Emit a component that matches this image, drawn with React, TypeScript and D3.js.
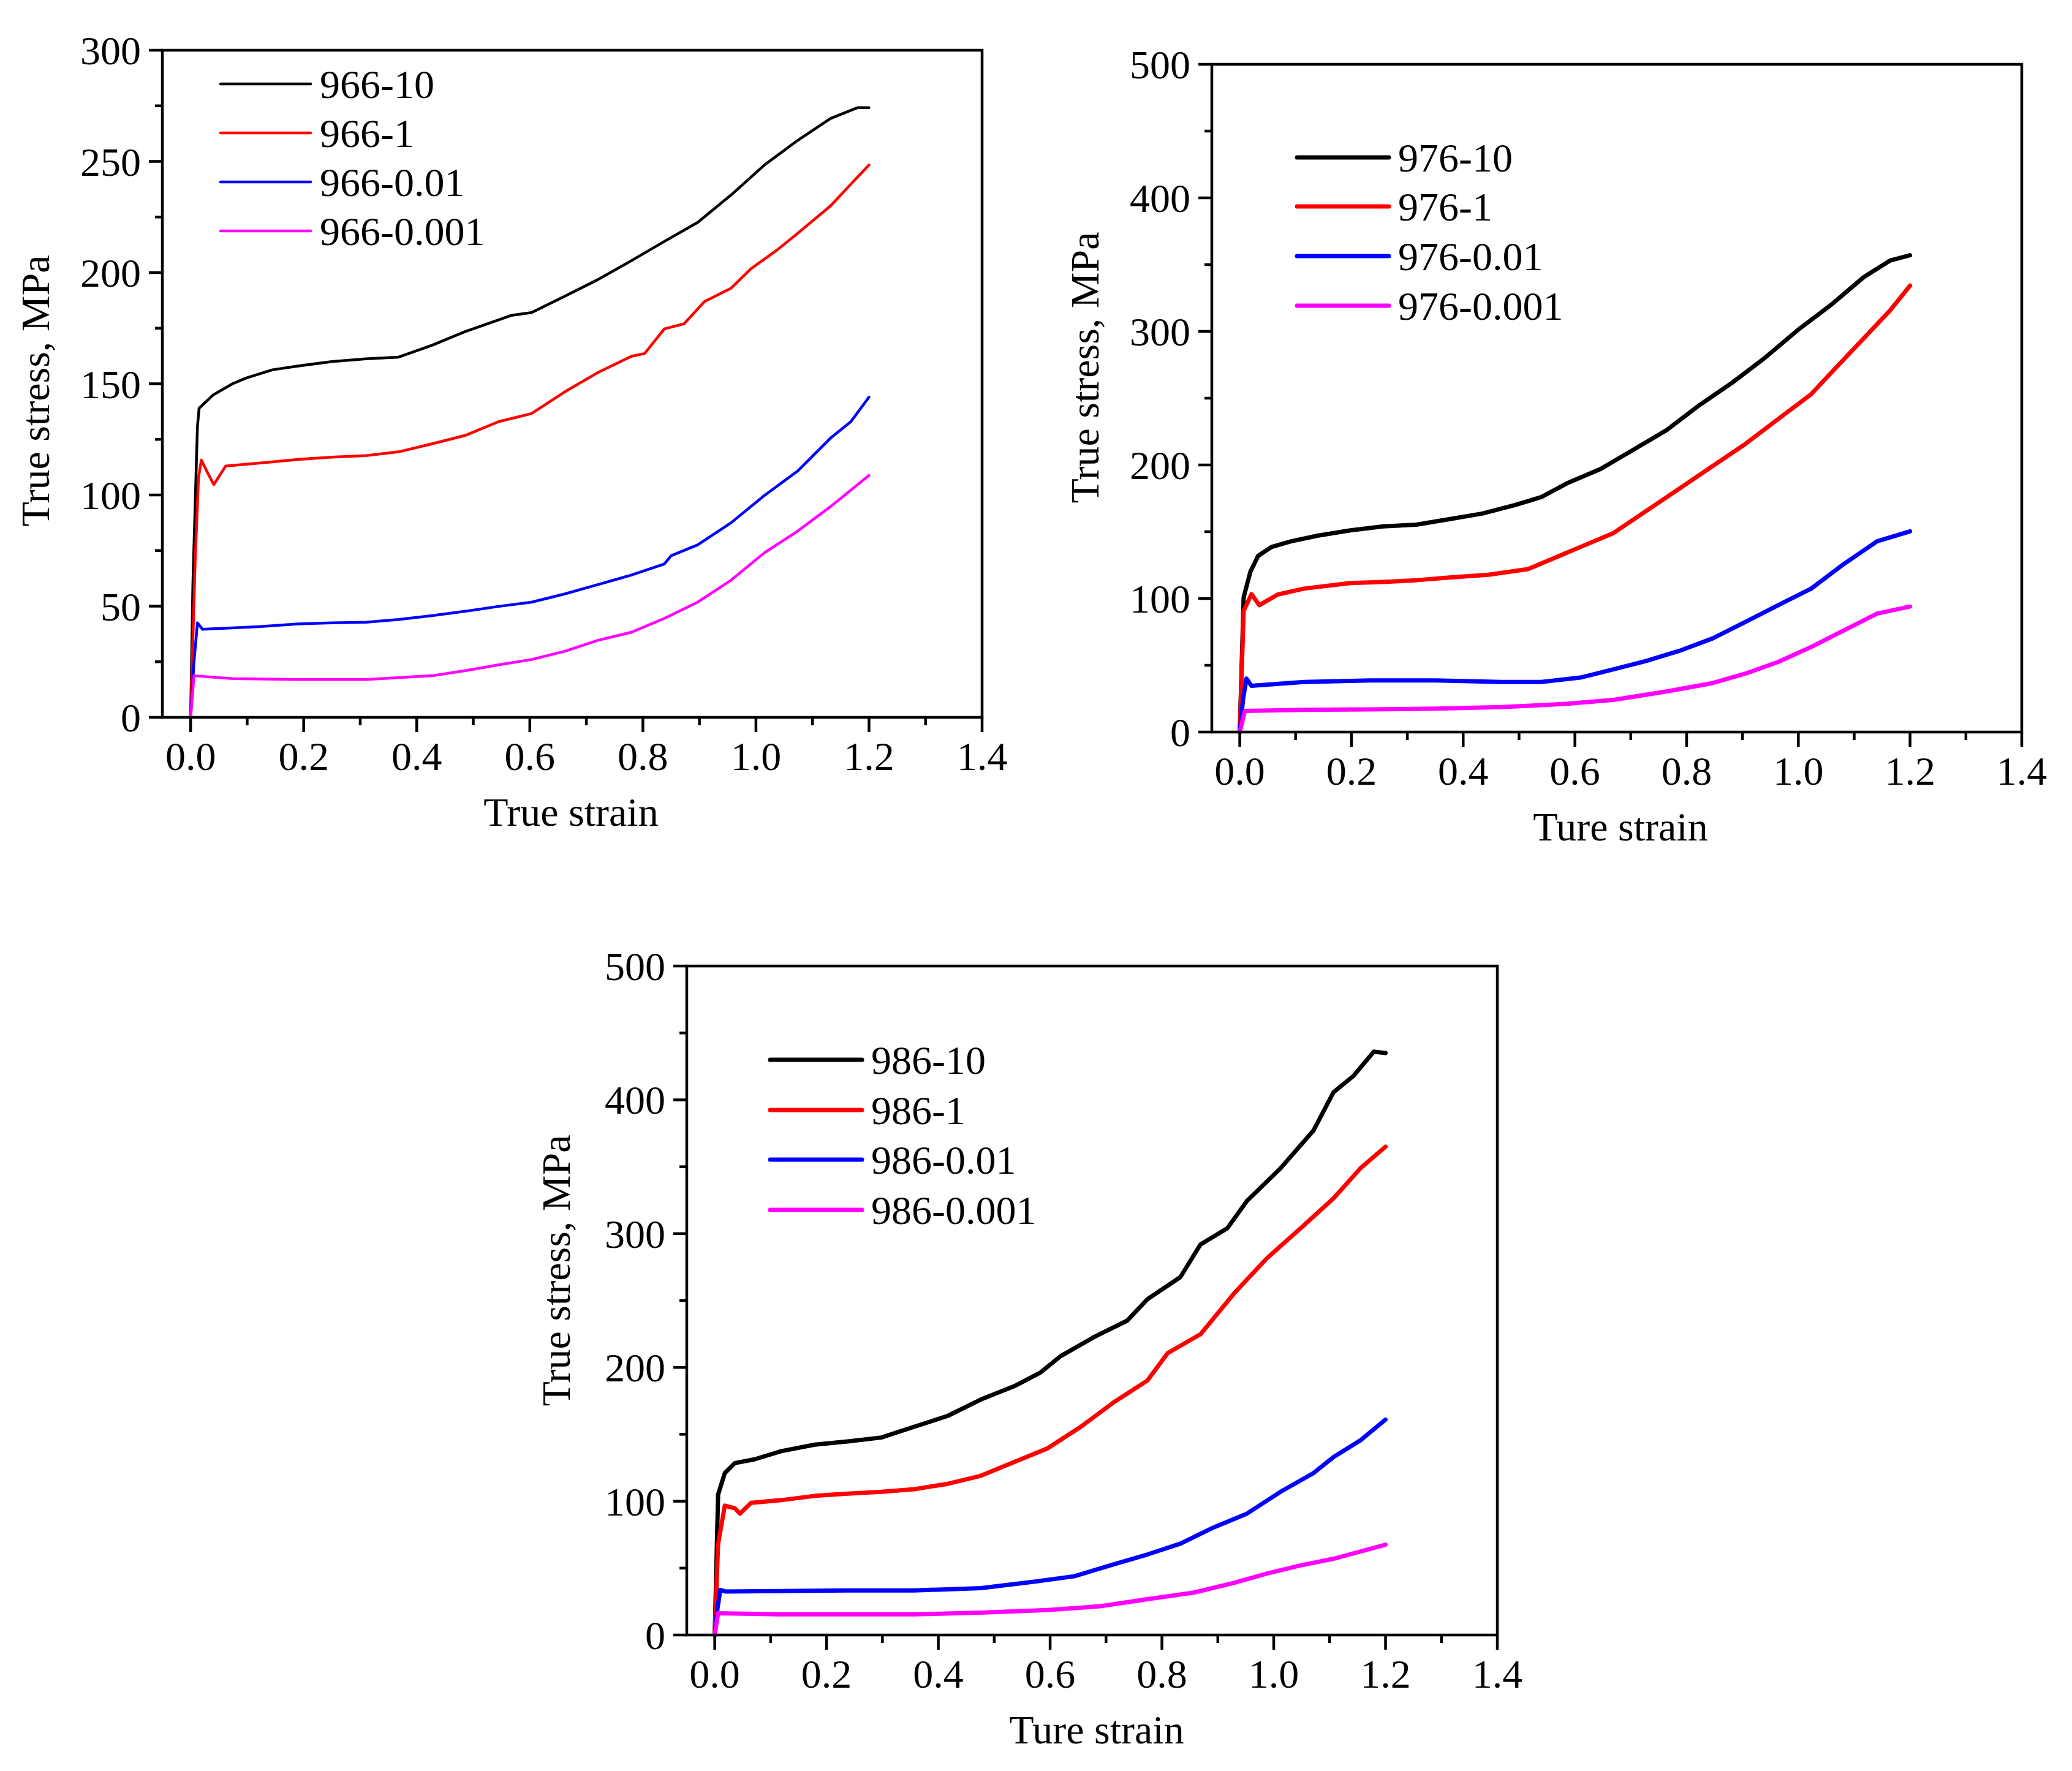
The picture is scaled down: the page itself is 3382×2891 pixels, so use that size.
import React from "react";
import * as d3 from "d3";

// ---------- Data ----------
const colors = ["#000000", "#ff0000", "#0000ff", "#ff00ff"];

// Panel 1 (966)
const labels966 = ["966-10", "966-1", "966-0.01", "966-0.001"];
const s966_10: [number, number][] = [
  [0, 0], [0.004, 60], [0.012, 130.5], [0.015, 139], [0.04, 145], [0.074, 150], [0.098, 152.6],
  [0.145, 156.3], [0.19, 158], [0.25, 160], [0.31, 161.2], [0.368, 162], [0.427, 167.3],
  [0.486, 173.5], [0.568, 180.8], [0.603, 182], [0.662, 189.4], [0.72, 196.8], [0.78, 205.4],
  [0.838, 214], [0.897, 222.6], [0.956, 234.9], [1.015, 248.4], [1.074, 259.5], [1.132, 269.3],
  [1.18, 274.2], [1.2, 274.2],
];
const s966_1: [number, number][] = [
  [0, 0], [0.008, 70], [0.014, 108], [0.019, 115.7], [0.03, 110], [0.041, 104.7], [0.062, 113],
  [0.13, 114.5], [0.19, 116], [0.25, 117], [0.31, 117.7], [0.368, 119.4], [0.427, 123],
  [0.486, 126.8], [0.545, 133], [0.603, 136.6], [0.662, 146.4], [0.72, 155], [0.78, 162.4],
  [0.803, 163.6], [0.838, 174.7], [0.873, 177], [0.909, 187], [0.956, 193], [0.991, 201.7],
  [1.038, 210.3], [1.074, 217.7], [1.132, 230], [1.168, 239.8], [1.2, 248.4],
];
const s966_001: [number, number][] = [
  [0, 0], [0.006, 25], [0.012, 42.5], [0.021, 39.6], [0.12, 40.8], [0.19, 42], [0.25, 42.5],
  [0.31, 42.8], [0.368, 44], [0.427, 45.7], [0.486, 47.7], [0.545, 49.9], [0.603, 51.8],
  [0.662, 55.5], [0.72, 59.7], [0.78, 64], [0.838, 69], [0.85, 72.7], [0.897, 77.6],
  [0.956, 87.5], [1.015, 99.8], [1.074, 110.8], [1.132, 125.6], [1.168, 133], [1.2, 144],
];
const s966_0001: [number, number][] = [
  [0, 0], [0.006, 18.7], [0.074, 17.4], [0.19, 17], [0.31, 17], [0.427, 18.7], [0.486, 21],
  [0.545, 23.6], [0.603, 26], [0.662, 29.7], [0.72, 34.6], [0.78, 38.3], [0.838, 44.5],
  [0.897, 51.8], [0.956, 61.7], [1.015, 74], [1.074, 83.8], [1.132, 94.8], [1.2, 108.8],
];

// Panel 2 (976)
const labels976 = ["976-10", "976-1", "976-0.01", "976-0.001"];
const s976_10: [number, number][] = [
  [0, 0], [0.007, 101], [0.019, 120], [0.033, 132], [0.057, 138.6], [0.092, 142.8], [0.139, 147],
  [0.198, 151], [0.257, 154], [0.316, 155.3], [0.375, 159.4], [0.434, 163.6], [0.493, 170],
  [0.54, 176], [0.587, 186.5], [0.646, 197], [0.705, 211.5], [0.764, 226], [0.823, 244.8],
  [0.881, 261.4], [0.94, 280.2], [0.999, 301], [1.058, 319.7], [1.117, 340.6], [1.164, 353],
  [1.2, 357],
];
const s976_1: [number, number][] = [
  [0, 0], [0.007, 90.8], [0.021, 103.3], [0.035, 95], [0.068, 103], [0.115, 107.4], [0.198, 111.6],
  [0.257, 112.4], [0.316, 113.7], [0.375, 115.7], [0.445, 117.8], [0.516, 122], [0.563, 130.3],
  [0.61, 138.6], [0.669, 149], [0.728, 165.7], [0.787, 182.3], [0.846, 199], [0.905, 215.7],
  [0.964, 234.4], [1.023, 253], [1.07, 274], [1.117, 294.8], [1.164, 315.6], [1.2, 334.3],
];
const s976_001: [number, number][] = [
  [0, 0], [0.006, 25], [0.012, 40], [0.021, 34.6], [0.115, 37.5], [0.233, 38.7], [0.351, 38.7],
  [0.469, 37.5], [0.54, 37.5], [0.61, 40.8], [0.669, 47], [0.728, 53.3], [0.787, 60.8],
  [0.846, 70], [0.905, 82.4], [0.964, 95], [1.023, 107.4], [1.082, 126], [1.141, 142.8],
  [1.2, 150.3],
];
const s976_0001: [number, number][] = [
  [0, 0], [0.009, 15.8], [0.115, 16.6], [0.233, 17], [0.351, 17.5], [0.469, 18.7], [0.587, 21.2],
  [0.669, 24.1], [0.764, 30.4], [0.846, 36.6], [0.905, 43.7], [0.964, 52.5], [1.023, 63.7],
  [1.082, 76.2], [1.141, 88.7], [1.2, 94],
];

// Panel 3 (986)
const labels986 = ["986-10", "986-1", "986-0.01", "986-0.001"];
const s986_10: [number, number][] = [
  [0, 0], [0.006, 104.9], [0.018, 121], [0.036, 128.5], [0.071, 131.3], [0.119, 137.4],
  [0.179, 142.3], [0.238, 144.7], [0.298, 147.6], [0.357, 155.7], [0.417, 163.8], [0.476, 176],
  [0.536, 186], [0.583, 196.3], [0.619, 208.5], [0.679, 222.8], [0.738, 235], [0.774, 251],
  [0.833, 267.5], [0.869, 291.9], [0.917, 304], [0.952, 324.4], [1.012, 348.8], [1.071, 377],
  [1.107, 405.7], [1.143, 418], [1.179, 436], [1.2, 435],
];
const s986_1: [number, number][] = [
  [0, 0], [0.006, 68], [0.018, 96.7], [0.036, 94.7], [0.045, 90.7], [0.065, 98.8], [0.119, 100.8],
  [0.179, 104], [0.238, 105.7], [0.298, 107], [0.357, 109], [0.417, 113], [0.476, 119],
  [0.536, 129.3], [0.595, 139.4], [0.655, 155.7], [0.714, 174], [0.774, 190.2], [0.81, 210.6],
  [0.869, 224.8], [0.929, 255.3], [0.988, 281.7], [1.048, 304], [1.107, 326.4], [1.155, 348.8],
  [1.2, 365],
];
const s986_001: [number, number][] = [
  [0, 0], [0.005, 20], [0.01, 33.7], [0.02, 32.5], [0.119, 32.9], [0.238, 33.3], [0.357, 33.3],
  [0.476, 35], [0.571, 39.8], [0.643, 43.9], [0.714, 52.8], [0.774, 60.2], [0.833, 68.3],
  [0.893, 80.5], [0.952, 90.7], [1.012, 107], [1.071, 121], [1.107, 133], [1.155, 145.5],
  [1.2, 161],
];
const s986_0001: [number, number][] = [
  [0, 0], [0.006, 16.3], [0.119, 15.4], [0.238, 15.4], [0.357, 15.4], [0.476, 16.7],
  [0.595, 18.7], [0.69, 21.5], [0.774, 26.8], [0.857, 31.7], [0.929, 39], [0.988, 46],
  [1.048, 52], [1.107, 57], [1.2, 67.5],
];

const xTicks = [0, 0.2, 0.4, 0.6, 0.8, 1.0, 1.2, 1.4];
const xMinor = [0.1, 0.3, 0.5, 0.7, 0.9, 1.1, 1.3];
const yTicks300 = [0, 50, 100, 150, 200, 250, 300];
const yMinor300 = [25, 75, 125, 175, 225, 275];
const yTicks500 = [0, 100, 200, 300, 400, 500];
const yMinor500 = [50, 150, 250, 350, 450];

// ---------- Layout ----------
const FONT = "'Liberation Serif', 'Times New Roman', serif";
const FS = 66;

type Panel = {
  left: number; right: number; top: number; bottom: number;
  yMax: number; yTicks: number[]; yMinor: number[];
  series: [number, number][][]; labels: string[]; lw: number;
  legendX: number; legendLen: number; legendY: number[];
  xTitle: string; xTitleX: number; yTitleX: number; yTitleY: number;
};

const panels: Panel[] = [
  {
    left: 265, right: 1603, top: 82, bottom: 1171,
    yMax: 300, yTicks: yTicks300, yMinor: yMinor300,
    series: [s966_10, s966_1, s966_001, s966_0001], labels: labels966, lw: 4.5,
    legendX: 360, legendLen: 147, legendY: [137, 217, 297, 377],
    xTitle: "True strain", xTitleX: 932, yTitleX: 80, yTitleY: 638,
  },
  {
    left: 1978, right: 3300, top: 105, bottom: 1195,
    yMax: 500, yTicks: yTicks500, yMinor: yMinor500,
    series: [s976_10, s976_1, s976_001, s976_0001], labels: labels976, lw: 7,
    legendX: 2117, legendLen: 150, legendY: [257, 337, 418, 499],
    xTitle: "Ture strain", xTitleX: 2645, yTitleX: 1793, yTitleY: 600,
  },
  {
    left: 1121, right: 2444, top: 1577, bottom: 2669,
    yMax: 500, yTicks: yTicks500, yMinor: yMinor500,
    series: [s986_10, s986_1, s986_001, s986_0001], labels: labels986, lw: 7,
    legendX: 1257, legendLen: 150, legendY: [1730, 1812, 1893, 1975],
    xTitle: "Ture strain", xTitleX: 1790, yTitleX: 930, yTitleY: 2074,
  },
];

const AXW = 4.5;

function PanelView({ p }: { p: Panel }) {
  const x = d3.scaleLinear().domain([-0.05, 1.4]).range([p.left, p.right]);
  const y = d3.scaleLinear().domain([0, p.yMax]).range([p.bottom, p.top]);
  const line = d3.line<[number, number]>().x((d) => x(d[0])).y((d) => y(d[1])).curve(d3.curveLinear);
  return (
    <g>
      {p.series.map((s, i) => (
        <path key={i} d={line(s) || ""} fill="none" stroke={colors[i]} strokeWidth={p.lw}
          strokeLinejoin="round" strokeLinecap="round" />
      ))}
      {/* frame */}
      <rect x={p.left} y={p.top} width={p.right - p.left} height={p.bottom - p.top}
        fill="none" stroke="#000" strokeWidth={AXW} />
      {/* x ticks */}
      {xTicks.map((t) => (
        <g key={"xt" + t}>
          <line x1={x(t)} x2={x(t)} y1={p.bottom} y2={p.bottom + 24} stroke="#000" strokeWidth={AXW} />
          <text x={x(t)} y={p.bottom + 86} textAnchor="middle" fontFamily={FONT} fontSize={FS}>
            {t.toFixed(1)}
          </text>
        </g>
      ))}
      {xMinor.map((t) => (
        <line key={"xm" + t} x1={x(t)} x2={x(t)} y1={p.bottom} y2={p.bottom + 13} stroke="#000" strokeWidth={AXW} />
      ))}
      {/* y ticks */}
      {p.yTicks.map((t) => (
        <g key={"yt" + t}>
          <line x1={p.left - 22} x2={p.left} y1={y(t)} y2={y(t)} stroke="#000" strokeWidth={AXW} />
          <text x={p.left - 35} y={y(t) + 23} textAnchor="end" fontFamily={FONT} fontSize={FS}>
            {t}
          </text>
        </g>
      ))}
      {p.yMinor.map((t) => (
        <line key={"ym" + t} x1={p.left - 12} x2={p.left} y1={y(t)} y2={y(t)} stroke="#000" strokeWidth={AXW} />
      ))}
      {/* titles */}
      <text x={p.xTitleX} y={p.bottom + 177} textAnchor="middle" fontFamily={FONT} fontSize={FS}>
        {p.xTitle}
      </text>
      <text transform={`translate(${p.yTitleX},${p.yTitleY}) rotate(-90)`} textAnchor="middle"
        fontFamily={FONT} fontSize={FS}>
        True stress, MPa
      </text>
      {/* legend */}
      {p.labels.map((l, i) => (
        <g key={l}>
          <line x1={p.legendX} x2={p.legendX + p.legendLen} y1={p.legendY[i]} y2={p.legendY[i]}
            stroke={colors[i]} strokeWidth={p.lw} strokeLinecap="round" />
          <text x={p.legendX + p.legendLen + 15} y={p.legendY[i] + 23} fontFamily={FONT} fontSize={FS}>
            {l}
          </text>
        </g>
      ))}
    </g>
  );
}

export default function App() {
  return (
    <svg width={3382} height={2891} viewBox="0 0 3382 2891"
      style={{ position: "absolute", left: 0, top: 0, background: "#fff" }}>
      <rect x={0} y={0} width={3382} height={2891} fill="#fff" />
      {panels.map((p, i) => (
        <PanelView key={i} p={p} />
      ))}
    </svg>
  );
}
